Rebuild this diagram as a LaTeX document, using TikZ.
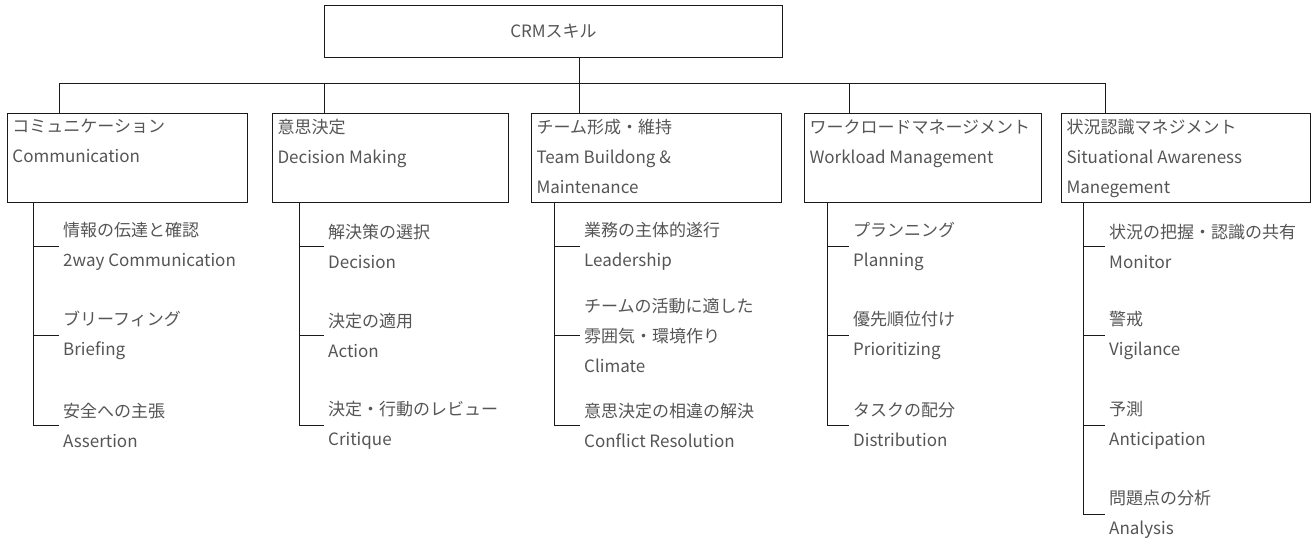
\documentclass[tikz,border=0pt]{standalone}
\usepackage{fontspec}
\setmainfont{Noto Sans CJK JP}
\definecolor{txt}{HTML}{555555}
\definecolor{ln}{HTML}{1A1A1A}
\tikzset{
  lbl/.style={text=txt, font=\fontsize{17}{30}\selectfont},
  catbox/.style={draw=ln, line width=1pt, anchor=north west, inner sep=0pt, lbl},
  item/.style={anchor=west, inner xsep=4pt, inner ysep=0pt, align=left, lbl},
  conn/.style={draw=ln, line width=1pt},
}
\newcommand{\catbody}[2]{\parbox[c][89pt][t]{#1}{\vspace*{6pt}\leftskip=5pt #2}}
\begin{document}
\begin{tikzpicture}[x=1pt,y=-1pt]
\useasboundingbox (0,0) rectangle (1312,538);
% root
\node[draw=ln, line width=1pt, anchor=north west, minimum width=458pt, minimum height=52pt, inner sep=0pt, lbl] (root) at (324,5) {CRMスキル};
% categories
\node[catbox] (c1) at (7,113)    {\catbody{240pt}{コミュニケーション\\Communication}};
\node[catbox] (c2) at (272,113)  {\catbody{236pt}{意思決定\\Decision Making}};
\node[catbox] (c3) at (531,113)  {\catbody{250pt}{チーム形成・維持\\Team Buildong \&\\Maintenance}};
\node[catbox] (c4) at (804,113)  {\catbody{237pt}{ワークロードマネージメント\\Workload Management}};
\node[catbox] (c5) at (1061,113) {\catbody{249pt}{状況認識マネジメント\\Situational Awareness\\Manegement}};
% bus junctions
\coordinate (j1) at (59,83);
\coordinate (j2) at (324,83);
\coordinate (j3) at (579,83);
\coordinate (j4) at (849,83);
\coordinate (j5) at (1105,83);
\draw[conn] (root.south -| j3) -- (j3);
\draw[conn] (j1) -- (j5);
\foreach \i in {1,...,5} { \draw[conn] (j\i) -- (j\i |- c\i.north); }
% spines
\coordinate (s1) at (33,202);
\coordinate (s2) at (299,202);
\coordinate (s3) at (554,202);
\coordinate (s4) at (827,202);
\coordinate (s5) at (1083,202);
% children
\node[item] (k11) at (59,246) {情報の伝達と確認\\2way Communication};
\node[item] (k12) at (59,335) {ブリーフィング\\Briefing};
\node[item] (k13) at (59,425) {安全への主張\\Assertion};
\node[item] (k21) at (324,246) {解決策の選択\\Decision};
\node[item] (k22) at (324,335) {決定の適用\\Action};
\node[item] (k23) at (324,425) {決定・行動のレビュー\\Critique};
\node[item] (k31) at (580,246) {業務の主体的遂行\\Leadership};
\node[item] (k32) at (580,335) {チームの活動に適した\\雰囲気・環境作り\\Climate};
\node[item] (k33) at (580,425) {意思決定の相違の解決\\Conflict Resolution};
\node[item] (k41) at (849,246) {プランニング\\Planning};
\node[item] (k42) at (849,335) {優先順位付け\\Prioritizing};
\node[item] (k43) at (849,425) {タスクの配分\\Distribution};
\node[item] (k51) at (1105,246) {状況の把握・認識の共有\\Monitor};
\node[item] (k52) at (1105,335) {警戒\\Vigilance};
\node[item] (k53) at (1105,425) {予測\\Anticipation};
\node[item] (k54) at (1105,514) {問題点の分析\\Analysis};
\foreach \k in {11,12,13} { \draw[conn] (s1) |- (k\k.west); }
\foreach \k in {21,22,23} { \draw[conn] (s2) |- (k\k.west); }
\foreach \k in {31,32,33} { \draw[conn] (s3) |- (k\k.west); }
\foreach \k in {41,42,43} { \draw[conn] (s4) |- (k\k.west); }
\foreach \k in {51,52,53,54} { \draw[conn] (s5) |- (k\k.west); }
\end{tikzpicture}
\end{document}
